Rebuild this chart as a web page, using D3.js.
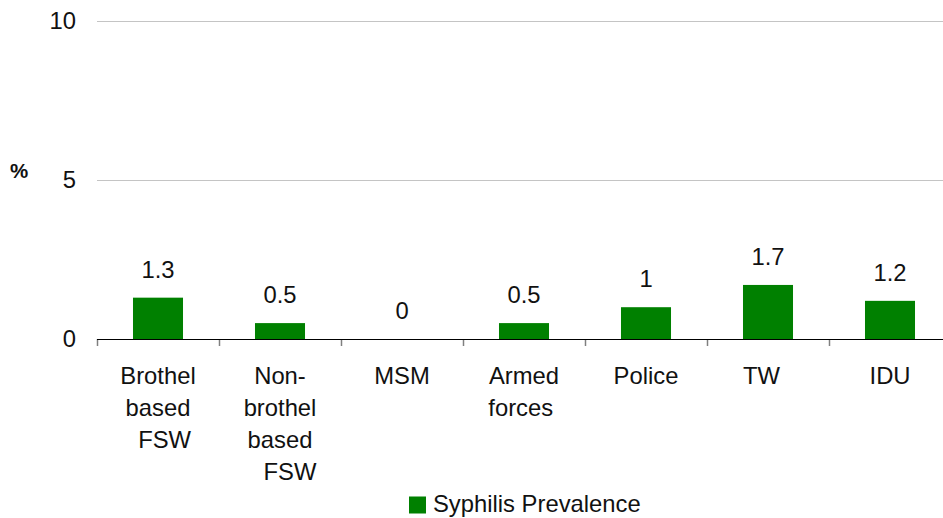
<!DOCTYPE html>
<html>
<head>
<meta charset="utf-8">
<script src="https://cdn.jsdelivr.net/npm/d3@7"></script>
<style>
  html, body { margin: 0; padding: 0; background: #fff; }
  svg { display: block; font-family: "Liberation Sans", Arial, sans-serif; }
  text { white-space: pre; }
</style>
</head>
<body>
<svg id="chart" width="943" height="518"></svg>
<script>
// Data
const categories = ["Brothel based FSW", "Non-brothel based FSW", "MSM", "Armed forces", "Police", "TW", "IDU"];
const categoryLines = [
  ["Brothel", "based", "  FSW"],
  ["Non-", "brothel", "based", "   FSW"],
  ["MSM"],
  ["Armed", "forces "],
  ["Police"],
  ["TW  "],
  ["IDU"]
];
const values = [1.3, 0.5, 0, 0.5, 1, 1.7, 1.2];
const valueLabels = ["1.3", "0.5", "0", "0.5", "1", "1.7", "1.2"];
const yTicks = [0, 5, 10];
const seriesName = "Syphilis Prevalence";
const yAxisTitle = "%";

const svg = d3.select("#chart");
const mLeft = 97, mTop = 21, mBottom = 339, step = 122;
const fs = 23.8;

const x = d3.scaleBand()
  .domain(categories)
  .range([mLeft, mLeft + step * categories.length])
  .paddingInner(0.59)
  .paddingOuter(0.295);

const y = d3.scaleLinear().domain([0, 10]).range([mBottom, mTop]);

// gridlines
svg.append("g").selectAll("line")
  .data(yTicks.filter(d => d !== 0))
  .join("line")
  .attr("x1", mLeft).attr("x2", 943)
  .attr("y1", d => y(d) + 0.5).attr("y2", d => y(d) + 0.5)
  .attr("stroke", "#c4c4c4").attr("stroke-width", 1)
  .attr("shape-rendering", "crispEdges");

// y tick labels
svg.append("g").selectAll("text")
  .data(yTicks)
  .join("text")
  .attr("x", 76)
  .attr("y", d => y(d))
  .attr("dy", "0.35em")
  .attr("text-anchor", "end")
  .attr("font-size", fs)
  .attr("fill", "#111")
  .text(d => d);

// y axis title
svg.append("text")
  .attr("x", 19).attr("y", 177.5)
  .attr("text-anchor", "middle")
  .attr("font-size", 20.5)
  .attr("font-weight", "bold")
  .attr("fill", "#111")
  .text(yAxisTitle);

// bars
svg.append("g").selectAll("rect")
  .data(values)
  .join("rect")
  .attr("x", (d, i) => x(categories[i]))
  .attr("width", x.bandwidth())
  .attr("y", d => y(d))
  .attr("height", d => y(0) - y(d))
  .attr("fill", "#008000");

// value labels
svg.append("g").selectAll("text")
  .data(values)
  .join("text")
  .attr("x", (d, i) => x(categories[i]) + x.bandwidth() / 2)
  .attr("y", d => y(d) - 20)
  .attr("text-anchor", "middle")
  .attr("font-size", fs)
  .attr("fill", "#111")
  .text((d, i) => valueLabels[i]);

// x axis ticks (category boundaries)
const boundaries = d3.range(categories.length + 1).map(i => mLeft + i * step);
svg.append("g").selectAll("line")
  .data(boundaries.filter(b => b <= 943))
  .join("line")
  .attr("x1", d => d + 0.5).attr("x2", d => d + 0.5)
  .attr("y1", mBottom).attr("y2", mBottom + 7)
  .attr("stroke", "#808080").attr("stroke-width", 1.5);

// x axis line
svg.append("line")
  .attr("x1", mLeft).attr("x2", 943)
  .attr("y1", mBottom + 0.5).attr("y2", mBottom + 0.5)
  .attr("stroke", "#000").attr("stroke-width", 1.2);

// category labels
const lab = svg.append("g").selectAll("text")
  .data(categories)
  .join("text")
  .attr("text-anchor", "middle")
  .attr("font-size", fs)
  .attr("fill", "#111")
  .attr("transform", d => `translate(${x(d) + x.bandwidth() / 2},384)`);
lab.each(function(d, i) {
  d3.select(this).selectAll("tspan")
    .data(categoryLines[i])
    .join("tspan")
    .attr("x", 0)
    .attr("y", (t, j) => j * 32)
    .text(t => t);
});

// legend
const lg = svg.append("g");
lg.append("rect")
  .attr("x", 409).attr("y", 496.5)
  .attr("width", 17).attr("height", 17)
  .attr("fill", "#008000");
lg.append("text")
  .attr("x", 433).attr("y", 512)
  .attr("font-size", fs)
  .attr("fill", "#111")
  .text(seriesName);
</script>
</body>
</html>
